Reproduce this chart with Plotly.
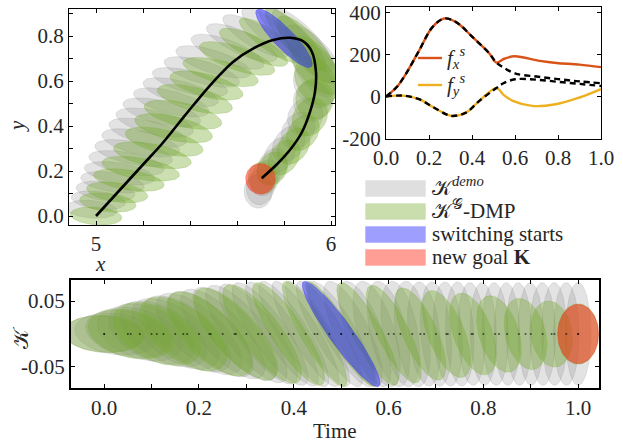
import numpy as np
import plotly.graph_objects as go

W, H = 623, 442

# ---------------- Top-left panel: Cartesian trajectory ----------------
traj_x = [5.0, 5.07, 5.14, 5.21, 5.28, 5.35, 5.42, 5.50, 5.584, 5.67, 5.754, 5.826,
          5.882, 5.918, 5.936, 5.932, 5.911, 5.875, 5.83, 5.77, 5.705]
traj_y = [0.0, 0.08, 0.16, 0.24, 0.32, 0.41, 0.50, 0.597, 0.686, 0.745, 0.782, 0.792,
          0.776, 0.731, 0.641, 0.553, 0.464, 0.37, 0.30, 0.23, 0.168]

# demo ellipses (centre x, centre y, half-width, half-height, correlation)
demo_cx = [4.98, 5.01, 5.04, 5.07, 5.10, 5.13, 5.16, 5.19, 5.22, 5.25, 5.28, 5.32,
           5.36, 5.40, 5.45, 5.50, 5.56, 5.62, 5.68, 5.75, 5.82, 5.88, 5.92, 5.935,
           5.93, 5.92, 5.89, 5.86, 5.82, 5.78, 5.75, 5.72, 5.70, 5.69]
demo_cy = [0.03, 0.07, 0.11, 0.15, 0.19, 0.235, 0.28, 0.325, 0.37, 0.415, 0.46, 0.505,
           0.55, 0.595, 0.64, 0.685, 0.73, 0.77, 0.80, 0.815, 0.81, 0.78, 0.72, 0.65,
           0.58, 0.51, 0.44, 0.38, 0.32, 0.27, 0.22, 0.17, 0.13, 0.11]
demo_hw = [0.11, 0.115, 0.125, 0.135, 0.15, 0.16, 0.165, 0.165, 0.165, 0.165, 0.165, 0.16,
           0.16, 0.16, 0.16, 0.16, 0.155, 0.15, 0.14, 0.13, 0.13, 0.13, 0.12, 0.10,
           0.09, 0.08, 0.075, 0.072, 0.07, 0.068, 0.065, 0.063, 0.06, 0.06]
demo_hh = [0.04, 0.042, 0.045, 0.048, 0.052, 0.056, 0.06, 0.063, 0.065, 0.065, 0.065, 0.065,
           0.065, 0.065, 0.068, 0.072, 0.078, 0.085, 0.095, 0.11, 0.13, 0.14, 0.13, 0.12,
           0.10, 0.09, 0.085, 0.082, 0.08, 0.08, 0.08, 0.08, 0.08, 0.075]
demo_rho = [-0.2, -0.3, -0.35, -0.42, -0.46, -0.5, -0.52, -0.54, -0.56, -0.56, -0.58, -0.6,
            -0.62, -0.62, -0.65, -0.68, -0.72, -0.76, -0.8, -0.83, -0.85, -0.82, -0.7, -0.5,
            -0.25, 0.0, 0.15, 0.25, 0.3, 0.3, 0.25, 0.2, 0.1, 0.0]

# G-DMP ellipses
dmp_cx = [5.00, 5.05, 5.09, 5.14, 5.19, 5.24, 5.29, 5.33, 5.37, 5.42, 5.47, 5.53, 5.60,
          5.67, 5.74, 5.85, 5.90, 5.93, 5.935, 5.93, 5.91, 5.88, 5.84, 5.80, 5.75, 5.71]
dmp_cy = [0.00, 0.06, 0.105, 0.16, 0.21, 0.27, 0.33, 0.39, 0.45, 0.52, 0.58, 0.64, 0.70,
          0.75, 0.78, 0.785, 0.74, 0.67, 0.60, 0.52, 0.44, 0.37, 0.31, 0.26, 0.21, 0.17]
dmp_hw = [0.11, 0.12, 0.13, 0.15, 0.165, 0.165, 0.165, 0.165, 0.165, 0.16, 0.155, 0.16, 0.16,
          0.145, 0.13, 0.13, 0.13, 0.11, 0.09, 0.08, 0.075, 0.07, 0.07, 0.068, 0.065, 0.063]
dmp_hh = [0.04, 0.043, 0.046, 0.05, 0.055, 0.06, 0.065, 0.065, 0.065, 0.065, 0.065, 0.065, 0.075,
          0.085, 0.10, 0.14, 0.15, 0.13, 0.11, 0.09, 0.085, 0.08, 0.08, 0.078, 0.075, 0.07]
dmp_rho = [-0.2, -0.3, -0.38, -0.45, -0.5, -0.53, -0.56, -0.56, -0.56, -0.6, -0.6, -0.62, -0.7,
           -0.78, -0.85, -0.85, -0.8, -0.6, -0.3, 0.0, 0.2, 0.3, 0.3, 0.3, 0.2, 0.0]

switch_xy = [5.80, 0.79, 0.12, 0.13, -0.88]   # cx, cy, hw, hh, rho
goal_xy = [5.70, 0.165, 0.063, 0.068, 0.0]

# ---------------- Top-right panel: forcing terms ----------------
fx_t = [0, 0.05, 0.092, 0.154, 0.216, 0.271, 0.326, 0.403, 0.481, 0.513, 0.55, 0.598,
        0.715, 0.793, 0.9, 1.0]
fx_v = [0, 45, 107, 219, 331, 372, 355, 283, 205, 162, 180, 192, 170, 160, 152, 140]
fy_t = [0, 0.05, 0.09, 0.154, 0.216, 0.28, 0.31, 0.372, 0.434, 0.513, 0.55, 0.59,
        0.68, 0.79, 0.9, 1.0]
fy_v = [0, 4, 3, -13, -49, -85, -93, -77, -21, 40, 5, -21, -45, -37, -5, 35]
fx_demo_t = [0, 0.05, 0.092, 0.154, 0.216, 0.271, 0.326, 0.403, 0.481, 0.513, 0.544,
             0.6, 0.7, 0.8, 0.9, 1.0]
fx_demo_v = [0, 45, 107, 219, 331, 372, 355, 283, 205, 162, 140, 110, 95, 83, 72, 63]
fy_demo_t = [0, 0.05, 0.09, 0.154, 0.216, 0.28, 0.31, 0.372, 0.434, 0.513, 0.544,
             0.6, 0.7, 0.8, 0.9, 1.0]
fy_demo_v = [0, 4, 3, -13, -49, -85, -93, -77, -21, 40, 62, 82, 80, 70, 60, 50]

# ---------------- Bottom panel: stiffness over time ----------------
kd_t = [0.0, 0.025, 0.05, 0.075, 0.1, 0.125, 0.15, 0.175, 0.2, 0.225, 0.25, 0.275, 0.3,
        0.325, 0.35, 0.375, 0.4, 0.425, 0.45, 0.475, 0.5, 0.525, 0.55, 0.575, 0.6, 0.625,
        0.65, 0.675, 0.7, 0.725, 0.75, 0.775, 0.8, 0.825, 0.85, 0.875, 0.9, 0.925, 0.95,
        0.975, 1.0]
kd_hw = [0.085, 0.087, 0.089, 0.090, 0.091, 0.092, 0.092, 0.092, 0.091, 0.090, 0.089, 0.088,
         0.086, 0.083, 0.080, 0.077, 0.074, 0.071, 0.068, 0.070, 0.070, 0.062, 0.055, 0.050,
         0.045, 0.041, 0.038, 0.035, 0.033, 0.031, 0.030, 0.029, 0.028, 0.028, 0.027, 0.027,
         0.027, 0.027, 0.027, 0.027, 0.027]
kd_hh = [0.028, 0.032, 0.036, 0.041, 0.046, 0.050, 0.054, 0.058, 0.062, 0.065, 0.068, 0.071,
         0.074, 0.076, 0.078, 0.079, 0.080, 0.080, 0.080, 0.080, 0.080, 0.080, 0.080, 0.080,
         0.080, 0.080, 0.080, 0.079, 0.079, 0.079, 0.079, 0.078, 0.078, 0.078, 0.078, 0.078,
         0.078, 0.078, 0.078, 0.078, 0.078]
kd_rho = [-0.10, -0.20, -0.30, -0.38, -0.45, -0.52, -0.58, -0.63, -0.68, -0.72, -0.75, -0.78,
          -0.80, -0.82, -0.84, -0.86, -0.87, -0.88, -0.88, -0.87, -0.85, -0.78, -0.70, -0.60,
          -0.50, -0.42, -0.35, -0.30, -0.25, -0.20, -0.15, -0.12, -0.10, -0.08, -0.06, -0.05,
          -0.04, -0.03, -0.02, -0.01, 0.0]

kg_t = [0.000, 0.056, 0.111, 0.167, 0.222, 0.278, 0.333, 0.389, 0.444, 0.500, 0.556, 0.611,
        0.667, 0.722, 0.778, 0.833, 0.889, 0.944, 1.000]
kg_hw = [0.085, 0.090, 0.092, 0.092, 0.090, 0.088, 0.083, 0.076, 0.068, 0.075, 0.065, 0.058,
         0.054, 0.051, 0.049, 0.047, 0.045, 0.044, 0.043]
kg_hh = [0.028, 0.038, 0.048, 0.056, 0.064, 0.070, 0.075, 0.078, 0.080, 0.080, 0.078, 0.074,
         0.070, 0.066, 0.062, 0.058, 0.054, 0.050, 0.046]
kg_rho = [-0.10, -0.30, -0.45, -0.58, -0.68, -0.75, -0.80, -0.85, -0.88, -0.92, -0.85, -0.78,
          -0.70, -0.60, -0.50, -0.40, -0.30, -0.15, 0.00]

switch_t = [0.500, 0.082, 0.080, -0.93]   # t, hw, hh, rho
goal_t = [1.000, 0.043, 0.045, 0.0]

# ---------------- styles ----------------
GRAY_F, GRAY_L = "rgba(128,128,128,0.22)", "rgba(128,128,128,0.30)"
GREEN_F, GREEN_L = "rgba(119,172,48,0.38)", "rgba(119,172,48,0.45)"
BLUE_F, BLUE_L = "rgba(40,40,255,0.50)", "rgba(40,40,255,0.55)"
RED_F, RED_L = "rgba(255,40,20,0.52)", "rgba(255,40,20,0.55)"
ORANGE, YELLOW = "#D95319", "#EDB120"
FONT = "Liberation Serif"
TXT = "#262626"

fig = go.Figure()


def ellipse(cx, cy, hw, hh, rho, fillc, linec, xa, ya, n=72):
    s = np.linspace(0, 2 * np.pi, n)
    x = cx + hw * np.cos(s)
    y = cy + hh * (rho * np.cos(s) + np.sqrt(1 - rho ** 2) * np.sin(s))
    fig.add_trace(go.Scatter(x=x, y=y, mode="lines", fill="toself", fillcolor=fillc,
                             line=dict(color=linec, width=0.6), hoverinfo="skip",
                             showlegend=False, xaxis=xa, yaxis=ya))


# top-left
for i in range(len(demo_cx)):
    ellipse(demo_cx[i], demo_cy[i], demo_hw[i], demo_hh[i], demo_rho[i], GRAY_F, GRAY_L, "x", "y")
for i in range(len(dmp_cx)):
    ellipse(dmp_cx[i], dmp_cy[i], dmp_hw[i], dmp_hh[i], dmp_rho[i], GREEN_F, GREEN_L, "x", "y")
ellipse(*switch_xy, BLUE_F, BLUE_L, "x", "y")
ellipse(*goal_xy, RED_F, RED_L, "x", "y")
fig.add_trace(go.Scatter(x=traj_x, y=traj_y, mode="lines",
                         line=dict(color="black", width=2.6, shape="spline"),
                         showlegend=False, hoverinfo="skip", xaxis="x", yaxis="y"))

# top-right
fig.add_trace(go.Scatter(x=fx_t, y=fx_v, mode="lines", line=dict(color=ORANGE, width=2.4, shape="spline"),
                         name="f_x", showlegend=False, xaxis="x2", yaxis="y2"))
fig.add_trace(go.Scatter(x=fy_t, y=fy_v, mode="lines", line=dict(color=YELLOW, width=2.4, shape="spline"),
                         name="f_y", showlegend=False, xaxis="x2", yaxis="y2"))
fig.add_trace(go.Scatter(x=fx_demo_t, y=fx_demo_v, mode="lines",
                         line=dict(color="black", width=2.4, dash="6px,4px", shape="spline"),
                         showlegend=False, xaxis="x2", yaxis="y2"))
fig.add_trace(go.Scatter(x=fy_demo_t, y=fy_demo_v, mode="lines",
                         line=dict(color="black", width=2.4, dash="6px,4px", shape="spline"),
                         showlegend=False, xaxis="x2", yaxis="y2"))

# bottom
for i in range(len(kd_t)):
    ellipse(kd_t[i], 0.0, kd_hw[i], kd_hh[i], kd_rho[i], GRAY_F, GRAY_L, "x3", "y3")
for i in range(len(kg_t)):
    ellipse(kg_t[i], 0.0, kg_hw[i], kg_hh[i], kg_rho[i], GREEN_F, GREEN_L, "x3", "y3")
ellipse(switch_t[0], 0.0, *switch_t[1:], BLUE_F, BLUE_L, "x3", "y3")
ellipse(goal_t[0], 0.0, *goal_t[1:], RED_F, RED_L, "x3", "y3")
fig.add_trace(go.Scatter(x=kd_t + kg_t, y=[0.0] * (len(kd_t) + len(kg_t)), mode="markers",
                         marker=dict(color="rgba(0,0,0,0.6)", size=2), showlegend=False,
                         hoverinfo="skip", xaxis="x3", yaxis="y3"))


def px(x):
    return x / W


def py(y):
    return 1 - y / H


axis_common = dict(showgrid=False, zeroline=False, showline=True, linecolor="black",
                   mirror="allticks", ticks="inside", ticklen=4, tickcolor="black",
                   automargin=False, tickfont=dict(family=FONT, size=21, color=TXT))


def minor(vals):
    return dict(tickvals=vals, ticks="inside", ticklen=4, tickcolor="black", showgrid=False)


fig.update_layout(
    width=W, height=H, margin=dict(l=0, r=0, t=0, b=0),
    paper_bgcolor="white", plot_bgcolor="white", showlegend=False,
    font=dict(family=FONT, size=21, color=TXT),
    xaxis=dict(domain=[px(69), px(335)], range=[4.885, 6.017], anchor="y",
               tickvals=[5, 6], ticktext=["5", "6"], minor=minor([5.2, 5.4, 5.6, 5.8]),
               linewidth=1, **axis_common),
    yaxis=dict(domain=[py(225), py(9)], range=[-0.04, 0.92], anchor="x",
               tickvals=[0, 0.2, 0.4, 0.6, 0.8],
               ticktext=["0.0", "0.2", "0.4", "0.6", "0.8"],
               minor=minor([0.1, 0.3, 0.5, 0.7, 0.9]),
               linewidth=1, **axis_common),
    xaxis2=dict(domain=[px(386), px(601)], range=[0, 1.0], anchor="y2",
                tickvals=[0, 0.2, 0.4, 0.6, 0.8, 1.0],
                ticktext=["0.0", "0.2", "0.4", "0.6", "0.8", "1.0"],
                linewidth=1, **axis_common),
    yaxis2=dict(domain=[py(139), py(7)], range=[-203, 427], anchor="x2",
                tickvals=[-200, 0, 200, 400], ticktext=["-200", "0", "200", "400"],
                linewidth=1, **axis_common),
    xaxis3=dict(domain=[px(71), px(599)], range=[-0.07, 1.044], anchor="y3",
                tickvals=[0, 0.2, 0.4, 0.6, 0.8, 1.0],
                ticktext=["0.0", "0.2", "0.4", "0.6", "0.8", "1.0"],
                minor=minor([0.1, 0.3, 0.5, 0.7, 0.9]),
                linewidth=2, **axis_common),
    yaxis3=dict(domain=[py(388), py(280)], range=[-0.082, 0.082], anchor="x3",
                tickvals=[-0.05, 0.05], ticktext=["-0.05", "0.05"],
                linewidth=2, **axis_common),
)

# axis titles
ann = [
    dict(x=px(100), y=py(264), text="<i>x</i>", xanchor="center", yanchor="middle"),
    dict(x=px(17), y=py(126), text="<i>y</i>", textangle=-90, xanchor="center", yanchor="middle"),
    dict(x=px(21), y=py(338), text="𝒦", textangle=-90, xanchor="center", yanchor="middle"),
    dict(x=px(335), y=py(431), text="Time", xanchor="center", yanchor="middle"),
    # main legend labels
    dict(x=px(430), y=py(186), text="𝒦<sup><i>demo</i></sup>", xanchor="left", yanchor="middle"),
    dict(x=px(430), y=py(209), text="𝒦<sup>𝒢</sup>-DMP", xanchor="left", yanchor="middle"),
    dict(x=px(430), y=py(234), text="switching starts", xanchor="left", yanchor="middle"),
    dict(x=px(430), y=py(257), text="new goal <b>K</b>", xanchor="left", yanchor="middle"),
    # force legend labels
    dict(x=px(445), y=py(58), text="<i>f</i><sub><i>x</i></sub><sup><i>s</i></sup>", xanchor="left", yanchor="middle"),
    dict(x=px(445), y=py(85), text="<i>f</i><sub><i>y</i></sub><sup><i>s</i></sup>", xanchor="left", yanchor="middle"),
]
for a in ann:
    a.update(xref="paper", yref="paper", showarrow=False, font=dict(family=FONT, size=21, color=TXT))
    fig.add_annotation(**a)

# legend swatches
sw = [("rgba(128,128,128,0.25)", 180, 197), ("rgba(119,172,48,0.40)", 203, 220),
      ("rgba(40,40,255,0.45)", 226, 243), ("rgba(255,40,20,0.45)", 249, 266)]
for col, y0, y1 in sw:
    fig.add_shape(type="rect", xref="paper", yref="paper", x0=px(365), x1=px(426),
                  y0=py(y1), y1=py(y0), fillcolor=col, line=dict(color="rgba(255,255,255,0.6)", width=1))
for col, yy in [(ORANGE, 58), (YELLOW, 85)]:
    fig.add_shape(type="line", xref="paper", yref="paper", x0=px(418), x1=px(442),
                  y0=py(yy), y1=py(yy), line=dict(color=col, width=2.4))

fig.write_html("out.html", config={"displayModeBar": False},
               post_script="document.body.style.margin='0px';document.body.style.overflow='hidden';")
